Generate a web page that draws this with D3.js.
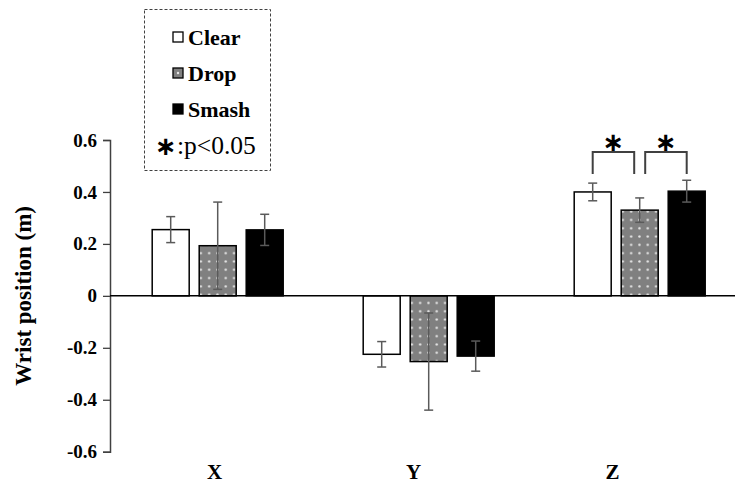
<!DOCTYPE html>
<html>
<head>
<meta charset="utf-8">
<script src="https://cdn.jsdelivr.net/npm/d3@7"></script>
<style>
    body { margin: 0; background: #fff; }
</style>
</head>
<body>
<div id="chart"></div>
<script>

// categories / series
let categories = ["X", "Y", "Z"];
let seriesNames = ["Clear", "Drop", "Smash"];

// means and SD per category (X, Y, Z)
let clearMean = [0.255, -0.225, 0.400];
let clearSD = [0.050, 0.049, 0.034];
let dropMean = [0.193, -0.253, 0.330];
let dropSD = [0.168, 0.187, 0.047];
let smashMean = [0.254, -0.232, 0.403];
let smashSD = [0.060, 0.058, 0.042];

let yTicks = [-0.6, -0.4, -0.2, 0, 0.2, 0.4, 0.6];
let yTickLabels = ["-0.6", "-0.4", "-0.2", "0", "0.2", "0.4", "0.6"];

// significant pairs (category, series a, series b)
let sigPairs = [["Z", "Clear", "Drop"], ["Z", "Drop", "Smash"]];
let sigLevel = 0.554;
let sigText = ":p<0.05";

let seriesMeans = [clearMean, dropMean, smashMean];
let seriesSDs = [clearSD, dropSD, smashSD];

let data = [];
categories.forEach((c, i) => {
    seriesNames.forEach((s, j) => {
        data.push({cat: c, series: s, mean: seriesMeans[j][i], sd: seriesSDs[j][i]});
    });
});

let width = 735, height = 491;
let serif = "Liberation Serif";

let svg = d3.select("#chart").append("svg")
    .attr("width", width)
    .attr("height", height);

// dotted pattern for Drop
let defs = svg.append("defs");
let pat = defs.append("pattern")
    .attr("id", "dots")
    .attr("patternUnits", "userSpaceOnUse")
    .attr("x", 1.5)
    .attr("width", 8.3)
    .attr("height", 8.3);
pat.append("rect").attr("width", 8.3).attr("height", 8.3).attr("fill", "#808080");
pat.append("circle").attr("cx", 4.15).attr("cy", 4.15).attr("r", 1.2).attr("fill", "#e8e8e8");

let fills = {Clear: "#ffffff", Drop: "url(#dots)", Smash: "#000000"};

// scales
let y = d3.scaleLinear()
    .domain([-0.6, 0.6])
    .range([451.7, 140]);

let x0 = d3.scaleBand()
    .domain(categories)
    .range([112.2, 745.2]);

let x1 = d3.scaleBand()
    .domain(seriesNames)
    .range([35, 176])
    .paddingInner(0.2128)
    .paddingOuter(0.1064);

let xLabel = d3.scaleBand()
    .domain(categories)
    .range([115, 712]);

// y axis
let yAxis = d3.axisLeft(y)
    .tickValues(yTicks)
    .tickFormat((d, i) => yTickLabels[i])
    .tickSize(7)
    .tickPadding(6);

let gy = svg.append("g")
    .attr("transform", "translate(110,0)")
    .call(yAxis)
    .attr("font-family", serif)
    .attr("font-size", 19)
    .attr("font-weight", "bold");
gy.select(".domain").attr("stroke", "#404040").attr("stroke-width", 1.5);
gy.selectAll(".tick line").attr("stroke", "#404040").attr("stroke-width", 1.3);
gy.selectAll(".tick text").attr("fill", "#000");

svg.append("text")
    .attr("transform", "translate(31," + y(0) + ") rotate(-90)")
    .attr("text-anchor", "middle")
    .attr("font-family", serif)
    .attr("font-size", 23)
    .attr("font-weight", "bold")
    .text("Wrist position (m)");

// bars
let groups = svg.selectAll(".group")
    .data(categories)
    .enter().append("g")
    .attr("transform", d => "translate(" + x0(d) + ",0)");

groups.selectAll("rect")
    .data(c => data.filter(d => d.cat === c))
    .enter().append("rect")
    .attr("x", d => x1(d.series))
    .attr("width", x1.bandwidth())
    .attr("y", d => y(Math.max(0, d.mean)))
    .attr("height", d => Math.abs(y(d.mean) - y(0)))
    .attr("fill", d => fills[d.series])
    .attr("stroke", "#000")
    .attr("stroke-width", 1.5);

// error bars
let eb = groups.selectAll(".err")
    .data(c => data.filter(d => d.cat === c))
    .enter().append("g")
    .attr("stroke", "#5a5a5a")
    .attr("stroke-width", 1.5);

eb.append("line")
    .attr("x1", d => x1(d.series) + x1.bandwidth() / 2)
    .attr("x2", d => x1(d.series) + x1.bandwidth() / 2)
    .attr("y1", d => y(d.mean + d.sd))
    .attr("y2", d => y(d.mean - d.sd));
eb.append("line")
    .attr("x1", d => x1(d.series) + x1.bandwidth() / 2 - 4.5)
    .attr("x2", d => x1(d.series) + x1.bandwidth() / 2 + 4.5)
    .attr("y1", d => y(d.mean + d.sd))
    .attr("y2", d => y(d.mean + d.sd));
eb.append("line")
    .attr("x1", d => x1(d.series) + x1.bandwidth() / 2 - 4.5)
    .attr("x2", d => x1(d.series) + x1.bandwidth() / 2 + 4.5)
    .attr("y1", d => y(d.mean - d.sd))
    .attr("y2", d => y(d.mean - d.sd));

// zero line
svg.append("line")
    .attr("x1", 110)
    .attr("x2", 735)
    .attr("y1", y(0))
    .attr("y2", y(0))
    .attr("stroke", "#000")
    .attr("stroke-width", 1.5);

// category labels
svg.selectAll(".cat-label")
    .data(categories)
    .enter().append("text")
    .attr("x", d => xLabel(d) + xLabel.bandwidth() / 2)
    .attr("y", 479)
    .attr("text-anchor", "middle")
    .attr("font-family", serif)
    .attr("font-size", 21)
    .attr("font-weight", "bold")
    .text(d => d);

// significance brackets
sigPairs.forEach((p, i) => {
    let cx = s => x0(p[0]) + x1(s) + x1.bandwidth() / 2;
    let xa = cx(p[1]) + (i === 0 ? 0 : 5.5);
    let xb = cx(p[2]) - (i === 0 ? 5.5 : 0);
    let yt = y(sigLevel);
    svg.append("path")
        .attr("d", "M" + xa + "," + (yt + 22) + "V" + yt + "H" + xb + "V" + (yt + 22))
        .attr("fill", "none")
        .attr("stroke", "#404040")
        .attr("stroke-width", 2);
    svg.append("text")
        .attr("x", (xa + xb) / 2)
        .attr("y", yt - 10)
        .attr("text-anchor", "middle")
        .attr("dominant-baseline", "central")
        .attr("font-family", "DejaVu Sans")
        .attr("font-size", 26)
        .attr("font-weight", "bold")
        .text("\u2217");
});

// legend
let legend = svg.append("g");
legend.append("rect")
    .attr("x", 144.5)
    .attr("y", 9.5)
    .attr("width", 126)
    .attr("height", 161)
    .attr("fill", "none")
    .attr("stroke", "#404040")
    .attr("stroke-width", 1)
    .attr("stroke-dasharray", "3,2");

let legItems = legend.selectAll(".leg")
    .data(seriesNames)
    .enter().append("g")
    .attr("transform", (d, i) => "translate(173," + (37 + i * 36) + ")");

legItems.append("rect")
    .attr("x", 0)
    .attr("y", -5)
    .attr("width", 10)
    .attr("height", 10)
    .attr("fill", d => d === "Drop" ? "#808080" : fills[d])
    .attr("stroke", "#000")
    .attr("stroke-width", 1.3);
legItems.filter(d => d === "Drop").append("circle")
    .attr("cx", 5).attr("cy", 0).attr("r", 1.2).attr("fill", "#e8e8e8");

legItems.append("text")
    .attr("x", 15)
    .attr("y", 8)
    .attr("font-family", serif)
    .attr("font-size", 22)
    .attr("font-weight", "bold")
    .text(d => d);

legend.append("text")
    .attr("x", 166)
    .attr("y", 146)
    .attr("text-anchor", "middle")
    .attr("dominant-baseline", "central")
    .attr("font-family", "DejaVu Sans")
    .attr("font-size", 26)
    .attr("font-weight", "bold")
    .text("\u2217");
legend.append("text")
    .attr("x", 177)
    .attr("y", 154)
    .attr("font-family", serif)
    .attr("font-size", 25.5)
    .text(sigText);

</script>
</body>
</html>
